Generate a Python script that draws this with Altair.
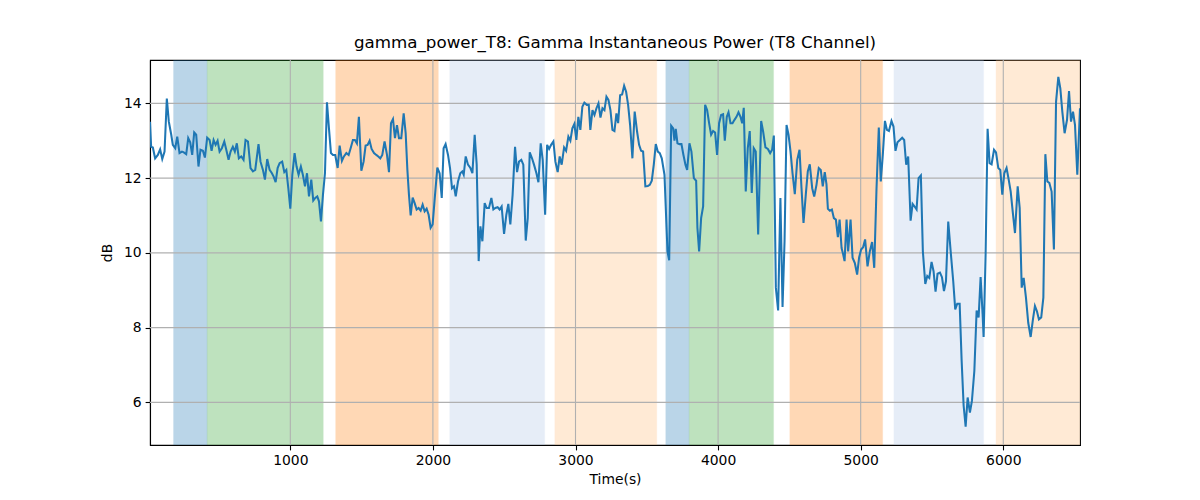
import altair as alt
import pandas as pd

# ---- line data (time in s, power in dB) ----
t1 = [16, 24, 36, 52, 71, 87, 102, 118, 134, 148, 165, 176, 193, 207, 223, 240, 253, 270, 284, 298,
      312, 326, 340, 356, 370, 387, 401, 417, 434, 448, 462, 476, 490, 504, 520, 537, 551, 567, 581, 597,
      611, 625, 639, 656, 672, 686, 703, 721, 738, 754, 777, 791, 808, 822, 838, 855, 871, 883, 897, 911,
      925, 943, 958, 972, 986, 1000, 1014, 1030, 1044, 1058, 1074, 1088, 1103, 1117, 1131, 1147, 1161, 1175, 1189, 1201,
      1215, 1229, 1243, 1257, 1271, 1285, 1299, 1315, 1332, 1346, 1362, 1376, 1393, 1409, 1423, 1439, 1453, 1467, 1481, 1498,
      1514, 1528, 1542, 1556, 1570, 1587, 1603, 1617, 1631, 1645, 1661, 1678, 1692, 1706, 1720, 1734, 1748, 1762, 1778, 1795,
      1809, 1821, 1832, 1844, 1858, 1872, 1886, 1900, 1914, 1928, 1942, 1956, 1970, 1984, 1998, 2015, 2031, 2047, 2062, 2075,
      2089, 2106, 2120, 2134, 2148, 2160, 2176]
v1 = [13.51, 12.84, 12.82, 12.53, 12.62, 12.77, 12.51, 12.71, 14.13, 13.51, 13.16, 12.89, 12.80, 13.11, 12.67, 12.71, 12.69, 12.64, 13.07, 12.96,
      12.62, 13.22, 13.16, 12.31, 12.76, 12.73, 12.55, 13.08, 13.02, 12.73, 13.02, 12.89, 13.00, 12.71, 12.80, 12.98, 12.76, 12.49, 12.71, 12.84,
      12.71, 12.93, 12.53, 12.58, 12.49, 13.02, 12.98, 12.27, 12.18, 12.22, 12.91, 12.44, 12.22, 11.96, 12.51, 12.22, 12.13, 12.04, 11.89, 12.27,
      12.40, 12.44, 12.16, 12.22, 11.73, 11.18, 12.09, 12.67, 12.31, 12.09, 12.31, 12.09, 11.78, 12.13, 11.51, 11.96, 11.40, 11.47, 11.51, 11.38,
      10.84, 11.56, 12.13, 14.03, 13.33, 12.67, 12.62, 12.62, 12.27, 12.87, 12.46, 12.58, 12.67, 12.62, 12.80, 13.02, 13.02, 12.93, 13.64, 12.20,
      12.44, 12.87, 12.89, 13.00, 12.78, 12.67, 12.62, 12.58, 12.53, 12.62, 12.98, 12.62, 12.16, 13.47, 13.58, 13.07, 13.42, 13.07, 13.07, 13.73,
      13.20, 12.22, 11.56, 11.00, 11.48, 11.33, 11.16, 11.20, 11.13, 11.29, 11.11, 11.18, 11.02, 10.67, 10.76, 11.56, 12.28, 12.13, 11.47, 12.80,
      12.91, 12.62, 12.27, 11.73, 11.78, 11.51, 11.91]

t2 = [2192, 2206, 2216, 2230, 2246, 2263, 2277, 2293, 2307, 2321, 2333, 2347, 2363, 2377, 2393, 2410, 2424, 2438, 2454, 2468,
      2482, 2499, 2515, 2529, 2543, 2559, 2576, 2590, 2604, 2620, 2634, 2651, 2665, 2679, 2695, 2709, 2726, 2740, 2756, 2770,
      2787, 2801, 2815, 2829, 2845, 2859, 2875, 2889, 2903, 2920, 2934, 2950, 2964, 2978, 2992, 3006, 3020, 3034, 3048, 3062,
      3079, 3093, 3104, 3119, 3133, 3147, 3161, 3175, 3189, 3203, 3217, 3231, 3245, 3259, 3273, 3287, 3299, 3313, 3327, 3341,
      3355, 3369, 3383, 3399, 3415, 3432, 3446, 3460, 3474, 3490, 3507, 3521, 3535, 3549, 3563, 3577, 3591, 3605, 3624, 3645,
      3657, 3671, 3685, 3694, 3703, 3715, 3729, 3743, 3757, 3771, 3783, 3799, 3813, 3830, 3846, 3855, 3867, 3881, 3895, 3909,
      3923, 3937, 3951, 3965, 3979, 3993, 4007, 4021, 4035, 4047, 4061, 4073, 4087, 4101, 4115, 4129, 4143, 4157, 4169, 4180,
      4194, 4208, 4222, 4236, 4250, 4264, 4281]
v2 = [12.13, 12.18, 12.09, 12.58, 12.36, 12.27, 12.13, 13.16, 12.36, 9.78, 10.71, 10.31, 11.33, 11.20, 11.20, 11.47, 11.16, 11.20, 11.22, 11.16,
      11.24, 10.51, 11.02, 11.31, 10.76, 11.56, 12.84, 12.16, 12.44, 12.49, 12.36, 10.33, 10.93, 12.69, 12.53, 12.36, 12.13, 11.89, 12.93, 12.49,
      11.02, 12.89, 12.78, 12.89, 12.98, 12.44, 12.16, 12.58, 12.36, 12.82, 12.73, 13.11, 13.00, 13.33, 13.45, 13.02, 13.64, 13.29, 13.91, 14.02,
      13.96, 13.96, 13.29, 13.82, 13.69, 13.87, 14.00, 13.62, 13.87, 13.82, 14.18, 14.09, 13.82, 13.29, 13.26, 13.73, 13.47, 14.22, 14.24, 14.47,
      14.31, 13.96, 13.42, 12.53, 13.78, 13.24, 12.89, 12.73, 12.71, 11.78, 11.79, 11.82, 11.93, 12.36, 12.91, 12.71, 12.67, 12.53, 12.09, 10.04,
      9.80, 13.40, 13.33, 13.00, 13.32, 12.93, 12.91, 12.91, 12.62, 12.36, 12.22, 12.93, 12.71, 12.00, 11.93, 10.67, 10.04, 10.93, 11.24, 13.96,
      13.82, 13.47, 13.16, 13.26, 13.22, 12.62, 13.47, 13.69, 13.71, 13.00, 13.64, 13.76, 13.47, 13.47, 13.56, 13.64, 13.76, 13.64, 13.47, 13.88,
      11.64, 12.80, 13.26, 11.60, 12.80, 12.71, 10.49]

t3 = [4302, 4316, 4332, 4349, 4365, 4379, 4391, 4405, 4421, 4437, 4452, 4466, 4480, 4494, 4508, 4522, 4538, 4555, 4571, 4585,
      4599, 4615, 4629, 4643, 4660, 4674, 4690, 4706, 4720, 4734, 4748, 4760, 4770, 4784, 4798, 4812, 4826, 4840, 4852, 4866,
      4877, 4887, 4901, 4912, 4929, 4943, 4959, 4975, 4989, 5003, 5017, 5031, 5048, 5064, 5080, 5095, 5111, 5127, 5141, 5155,
      5170, 5184, 5198, 5216, 5230, 5244, 5258, 5275, 5291, 5305, 5319, 5333, 5350, 5364, 5378, 5392, 5406, 5422, 5436, 5453,
      5467, 5481, 5497, 5511, 5525, 5539, 5556, 5570, 5584, 5598, 5614, 5631, 5649, 5663, 5677, 5694, 5708, 5722, 5736, 5750,
      5766, 5780, 5797, 5813, 5827, 5841, 5855, 5862, 5876, 5890, 5904, 5918, 5935, 5949, 5965, 5979, 5993, 6007, 6023, 6038,
      6052, 6066, 6082, 6101, 6115, 6129, 6143, 6159, 6175, 6192, 6208, 6222, 6236, 6250, 6266, 6281, 6295, 6309, 6323, 6339,
      6355, 6370, 6386, 6400, 6414, 6430, 6447, 6461, 6475, 6489, 6503, 6519, 6538]
v3 = [13.53, 13.24, 12.82, 12.78, 12.67, 12.76, 13.14, 9.07, 8.46, 11.47, 8.55, 10.31, 13.42, 13.16, 12.71, 12.13, 11.57, 12.49, 12.76, 11.73,
      10.80, 11.56, 12.18, 12.37, 11.73, 11.51, 11.82, 12.27, 12.22, 11.78, 12.16, 11.84, 11.18, 11.13, 11.16, 10.93, 10.89, 10.42, 10.89, 10.13,
      9.96, 9.78, 10.89, 10.04, 10.89, 9.87, 9.73, 9.42, 9.88, 10.09, 10.15, 10.36, 9.64, 10.04, 10.29, 9.60, 11.73, 13.35, 11.91, 12.62,
      13.53, 13.29, 13.26, 13.53, 13.38, 12.73, 12.96, 13.02, 13.08, 13.02, 12.36, 12.58, 10.86, 11.31, 11.24, 11.16, 12.00, 12.07, 10.04, 9.17,
      9.38, 9.33, 9.76, 9.51, 8.96, 9.44, 9.47, 9.35, 8.98, 9.24, 10.84, 10.04, 9.24, 8.49, 8.64, 8.64, 7.11, 5.91, 5.35, 6.13,
      5.73, 6.04, 6.84, 8.46, 8.27, 9.35, 8.36, 7.75, 9.96, 13.32, 12.40, 12.37, 12.76, 12.69, 12.27, 12.22, 11.56, 12.13, 12.27, 11.96,
      11.64, 11.11, 10.53, 11.78, 11.20, 9.07, 9.33, 8.80, 8.13, 7.75, 8.22, 8.58, 8.44, 8.22, 8.27, 8.80, 12.64, 11.91, 11.87, 11.64,
      10.09, 14.04, 14.71, 14.40, 13.78, 13.20, 13.56, 14.33, 13.51, 13.78, 13.42, 12.09, 13.87]

# ---- shaded intervals ----
span_start = [181, 417, 1318, 2118, 2855, 3633, 3797, 4503, 5233, 5949]
span_end = [417, 1231, 2038, 2784, 3570, 3797, 4389, 5154, 5862, 6538]
span_kind = ["A", "B", "C", "D", "E", "A", "B", "C", "D", "E"]
kind_domain = ["A", "B", "C", "D", "E"]
kind_colors = ["#1f77b4", "#2ca02c", "#ff7f0e", "#aec7e8", "#ffbb78"]

x_ticks = [1000, 2000, 3000, 4000, 5000, 6000]
y_ticks = [6, 8, 10, 12, 14]
x_domain = [16, 6538]
y_domain = [4.86, 15.16]

line_df = pd.DataFrame({"t": t1 + t2 + t3, "v": v1 + v2 + v3})
span_df = pd.DataFrame({"start": span_start, "end": span_end, "kind": span_kind})
xgrid_df = pd.DataFrame({"g": x_ticks})
ygrid_df = pd.DataFrame({"g": y_ticks})

FONT = "DejaVu Sans"
H = 385

x_scale = alt.Scale(domain=x_domain, nice=False, zero=False)
y_scale = alt.Scale(domain=y_domain, nice=False, zero=False)
kind_scale = alt.Scale(domain=kind_domain, range=kind_colors)

spans = alt.Chart(span_df).mark_rect(opacity=0.3, strokeWidth=1, strokeOpacity=0.3, clip=True).encode(
    x=alt.X("start:Q", scale=x_scale,
            axis=alt.Axis(title="Time(s)", values=x_ticks, format="d", grid=False)),
    x2="end:Q",
    y=alt.value(0),
    y2=alt.value(H),
    color=alt.Color("kind:N", scale=kind_scale, legend=None),
    stroke=alt.Stroke("kind:N", scale=kind_scale, legend=None),
)

xgrid = alt.Chart(xgrid_df).mark_rule(color="#b0b0b0", strokeWidth=1.1).encode(
    x=alt.X("g:Q", scale=x_scale),
    y=alt.value(0),
    y2=alt.value(H),
)

ygrid = alt.Chart(ygrid_df).mark_rule(color="#b0b0b0", strokeWidth=1.1).encode(
    y=alt.Y("g:Q", scale=y_scale,
            axis=alt.Axis(title="dB", values=y_ticks, format="d", grid=False)),
    x=alt.value(0),
    x2=alt.value(930),
)

line = alt.Chart(line_df).mark_line(color="#1f77b4", strokeWidth=2.05, clip=True).encode(
    x=alt.X("t:Q", scale=x_scale),
    y=alt.Y("v:Q", scale=y_scale),
    order="t:Q",
)

chart = alt.layer(spans, xgrid, ygrid, line).properties(
    width=930,
    height=H,
    title=alt.Title("gamma_power_T8: Gamma Instantaneous Power (T8 Channel)",
                    font=FONT, fontSize=16.7, fontWeight="normal", color="black", offset=8),
    autosize=alt.AutoSizeParams(type="none"),
    padding={"left": 142, "top": 52, "right": 112, "bottom": 47},
).configure_view(
    stroke="black", strokeWidth=1.1
).configure_axis(
    labelFont=FONT, titleFont=FONT, labelFontSize=13.9, titleFontSize=13.9,
    labelColor="black", titleColor="black", titleFontWeight="normal",
    domainColor="black", domainWidth=1.1, tickColor="black", tickSize=4.9, tickWidth=1.1,
    labelPadding=4, grid=False,
).configure_axisX(
    titlePadding=5
).configure_axisY(
    titlePadding=9
)

chart.save("out.html", embed_options={"renderer": "svg", "actions": False})
